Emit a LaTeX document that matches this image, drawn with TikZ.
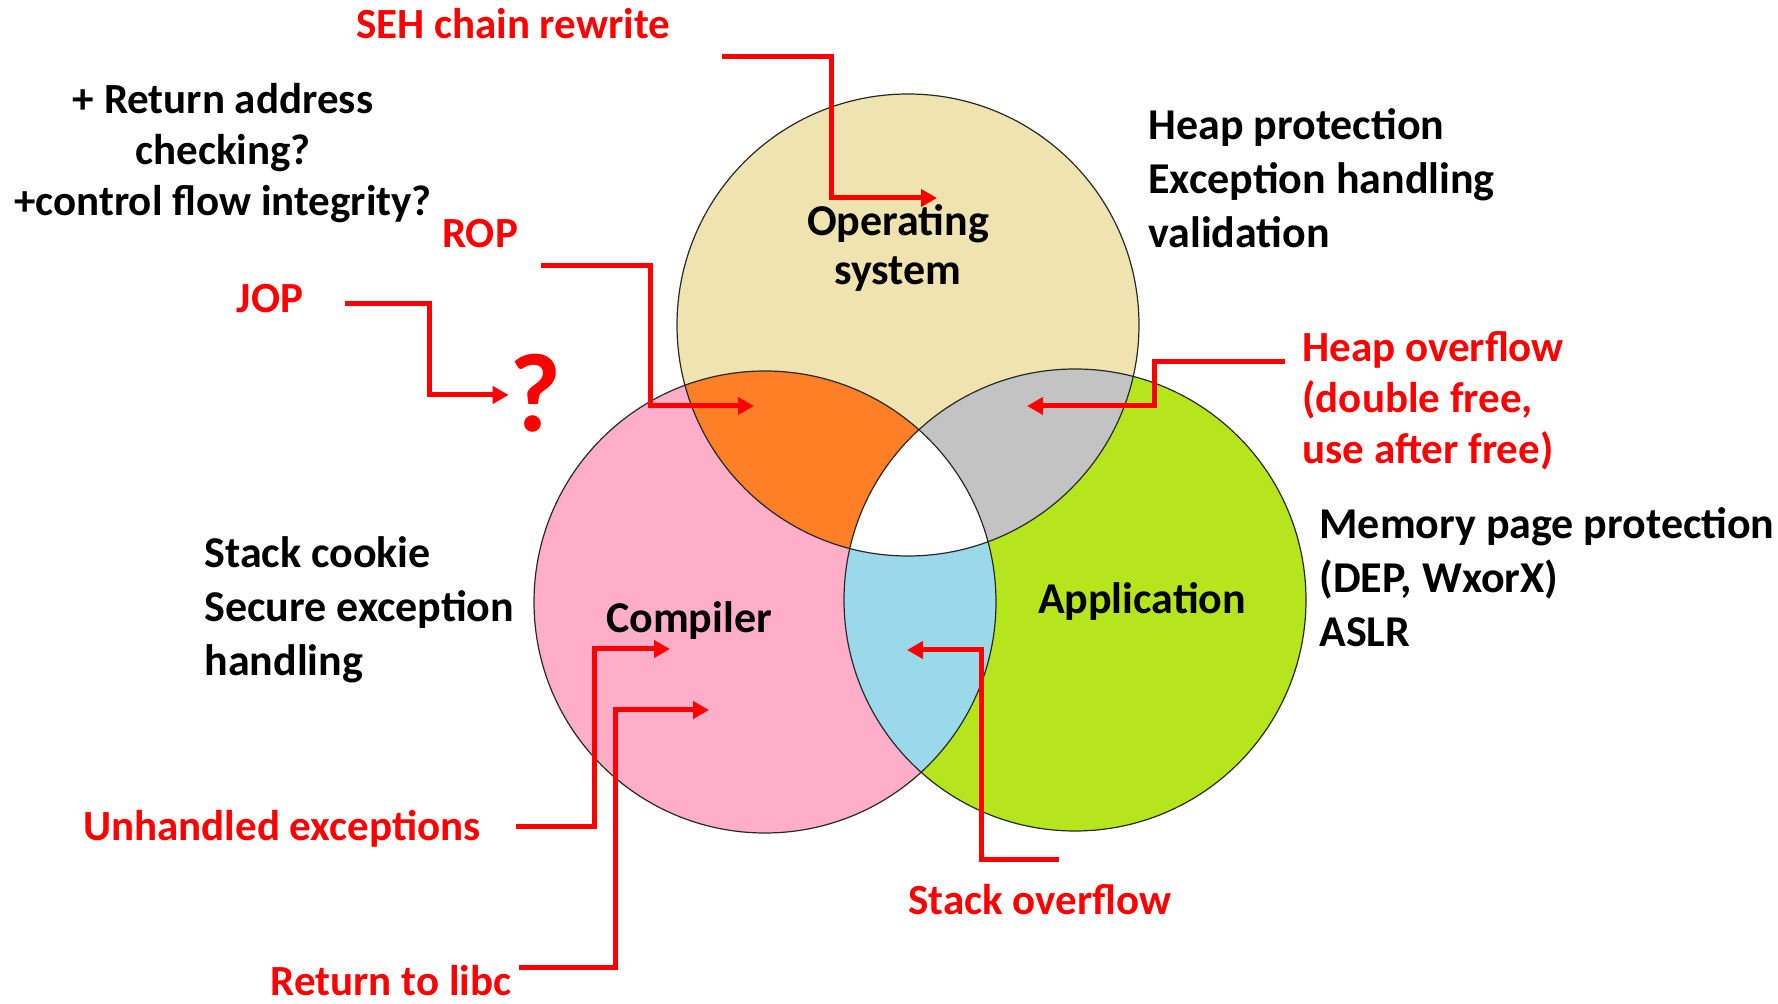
\documentclass[tikz,border=0pt]{standalone}
\usepackage{fontspec}
\setmainfont{Carlito}
\usetikzlibrary{arrows.meta}

\definecolor{osfill}{RGB}{239,228,176}
\definecolor{compfill}{RGB}{255,174,201}
\definecolor{appfill}{RGB}{181,230,29}
\definecolor{oscompfill}{RGB}{255,127,39}
\definecolor{osappfill}{RGB}{195,195,195}
\definecolor{compappfill}{RGB}{153,217,234}
\definecolor{attackred}{RGB}{255,0,0}
\definecolor{rimgray}{RGB}{40,40,40}

\begin{document}
\begin{tikzpicture}[x=0.5pt,y=-0.5pt,
  lbl/.style={inner sep=0pt, font=\bfseries\fontsize{22}{27}\selectfont},
  tight/.style={font=\bfseries\fontsize{21.5}{25.5}\selectfont},
  attacklbl/.style={inner sep=0pt, text=attackred, font=\bfseries\fontsize{21.5}{27}\selectfont},
  attacktight/.style={font=\bfseries\fontsize{21.5}{25.5}\selectfont},
  attack/.style={draw=attackred, line width=2.5pt, line join=miter,
    -{Triangle[length=8pt,width=8.5pt]}},
  rim/.style={draw=rimgray, line width=0.6pt}]

\fill[white] (0,0) rectangle (1778,1004);
\useasboundingbox (0,0) rectangle (1778,1004);

% circle centres
\coordinate (osC)   at (908,325);
\coordinate (compC) at (765,602);
\coordinate (appC)  at (1075,600);
\def\rad{231}

% base discs
\fill[osfill]   (osC)   circle (\rad);
\fill[compfill] (compC) circle (\rad);
\fill[appfill]  (appC)  circle (\rad);

% pairwise overlaps
\begin{scope}
  \clip (osC) circle (\rad);
  \fill[oscompfill] (compC) circle (\rad);
  \fill[osappfill]  (appC)  circle (\rad);
\end{scope}
\begin{scope}
  \clip (compC) circle (\rad);
  \fill[compappfill] (appC) circle (\rad);
\end{scope}
% common core
\begin{scope}
  \clip (osC) circle (\rad);
  \clip (compC) circle (\rad);
  \fill[white] (appC) circle (\rad);
\end{scope}

% outlines
\draw[rim] (osC)   circle (\rad);
\draw[rim] (compC) circle (\rad);
\draw[rim] (appC)  circle (\rad);

% set names
\node[lbl, align=center, font=\bfseries\fontsize{22}{24.5}\selectfont] (osname) at (898,248) {Operating\\system};
\node[lbl] (compname) at (689,621) {Compiler};
\node[lbl] (appname) at (1142,601) {Application};

% defences
\node[lbl, tight, align=center] (retchk) at (223,153)
  {+ Return address\\checking?\\+control flow integrity?};
\node[lbl, align=left, anchor=west] (heapprot) at (1148,178)
  {Heap protection\\Exception handling\\validation};
\node[lbl, align=left, anchor=west] (memprot) at (1319,577)
  {Memory page protection\\(DEP, WxorX)\\ASLR};
\node[lbl, align=left, anchor=west] (stackck) at (204,610)
  {Stack cookie\\Secure exception\\handling};

% attacks
\node[attacklbl] (seh) at (513,24) {SEH chain rewrite};
\node[attacklbl] (rop) at (480,234) {ROP};
\node[attacklbl] (jop) at (270,299) {JOP};
\node[attacklbl, font=\bfseries\fontsize{56}{60}\selectfont] (qmark) at (535,393) {?};
\node[attacklbl, attacktight, align=left, anchor=west] (heapovf) at (1302,401)
  {Heap overflow\\(double free,\\use after free)};
\node[attacklbl] (unhandled) at (282,829) {Unhandled exceptions};
\node[attacklbl] (stackovf) at (1040,900) {Stack overflow};
\node[attacklbl] (ret2libc) at (391,981) {Return to libc};

% leader lines
\coordinate (sehS) at (722,57);   \coordinate (sehK) at (831,198);  \coordinate (sehT) at (937,198);
\coordinate (ropS) at (541,266);  \coordinate (ropK) at (650,406);  \coordinate (ropT) at (754,406);
\coordinate (jopS) at (345,304);  \coordinate (jopK) at (429,395);
\coordinate (hovS) at (1285,362); \coordinate (hovK) at (1154,406); \coordinate (hovT) at (1027,406);
\coordinate (unhS) at (516,827);  \coordinate (unhK) at (594,649);  \coordinate (unhT) at (670,649);
\coordinate (libS) at (519,967);  \coordinate (libK) at (615,710);  \coordinate (libT) at (709,710);
\coordinate (sovS) at (1059,860); \coordinate (sovK) at (981,650);  \coordinate (sovT) at (907,650);

\draw[attack] (sehS) -| (sehK) -- (sehT);
\draw[attack] (ropS) -| (ropK) -- (ropT);
\draw[attack] (jopS) -| (jopK) -- (jopK -| qmark.west);
\draw[attack] (hovS) -| (hovK) -- (hovT);
\draw[attack] (unhS) -| (unhK) -- (unhT);
\draw[attack] (libS) -| (libK) -- (libT);
\draw[attack] (sovS) -| (sovK) -- (sovT);
\end{tikzpicture}
\end{document}
